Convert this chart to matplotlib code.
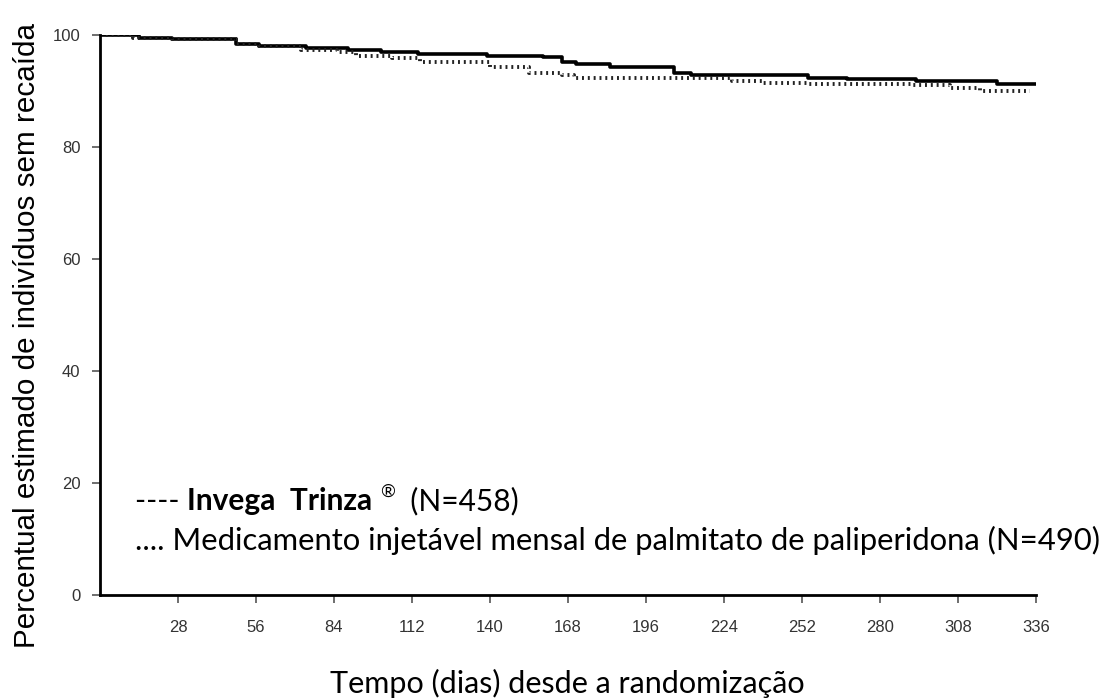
import matplotlib
matplotlib.use("Agg")
from matplotlib import pyplot as plt

# Kaplan-Meier style step curves (days, % sem recaida)
trinza_days = [0, 14, 26, 49, 57, 74, 89, 101, 114, 139, 159, 166, 171, 183, 206, 212, 254, 268, 293, 322, 336]
trinza_pct = [100, 99.4, 99.2, 98.4, 98.0, 97.6, 97.4, 97.0, 96.6, 96.25, 96.0, 95.2, 94.8, 94.3, 93.3, 92.9, 92.4, 92.2, 91.8, 91.25, 91.25]

mensal_days = [0, 12, 26, 49, 57, 72, 85, 92, 105, 115, 140, 154, 166, 170, 227, 238, 254, 292, 305, 316, 334]
mensal_pct = [100, 99.5, 99.2, 98.4, 98.0, 97.4, 97.0, 96.3, 95.9, 95.2, 94.2, 93.2, 92.9, 92.3, 91.7, 91.5, 91.2, 91.0, 90.5, 90.0, 90.0]

x_ticks = [28, 56, 84, 112, 140, 168, 196, 224, 252, 280, 308, 336]
y_ticks = [0, 20, 40, 60, 80, 100]

ylabel = "Percentual estimado de indivíduos sem recaída"
xlabel = "Tempo (dias) desde a randomização"

fig = plt.figure(figsize=(11.13, 7), dpi=100)
ax = fig.add_axes([0.0898, 0.15, 0.8410, 0.80])

ax.plot(trinza_days, trinza_pct, drawstyle="steps-post", color="black", linewidth=2.6)
ax.plot(mensal_days, mensal_pct, drawstyle="steps-post", color="#222222",
        linewidth=2.8, linestyle=(0, (0.5, 1.0)))

ax.set_xlim(0, 336)
ax.set_ylim(0, 100)
ax.set_xticks(x_ticks)
ax.set_yticks(y_ticks)
for side in ["top", "right"]:
    ax.spines[side].set_visible(False)
ax.spines["left"].set_linewidth(2)
ax.spines["bottom"].set_linewidth(2)
ax.tick_params(axis="both", direction="out", length=6, width=1.2, color="#555555")
ax.tick_params(axis="x", pad=12)
ax.tick_params(axis="y", pad=8)
tick_font = ["Liberation Sans Narrow", "Liberation Sans"]
for lab in ax.get_xticklabels() + ax.get_yticklabels():
    lab.set_family(tick_font)
    lab.set_fontsize(12)
    lab.set_color("#333333")

fig.text(0.024, 0.52, ylabel, rotation=90, ha="center", va="center",
         family="Liberation Sans", fontsize=21.3)
fig.text(0.51, 0.024, xlabel, ha="center", va="center", family="Lato", fontsize=22)

# legend written as text inside the plot area, built piece by piece
legend_font = "Lato"
fig.canvas.draw()
renderer = fig.canvas.get_renderer()

def put_pieces(x_px, y_px, pieces):
    for txt, weight, size, dy in pieces:
        t = fig.text(x_px / 1113, (700 - y_px + dy) / 700, txt, family=legend_font,
                     fontweight=weight, fontsize=size, ha="left", va="baseline")
        bb = t.get_window_extent(renderer)
        x_px += bb.width

put_pieces(135, 510, [("---- ", "normal", 21.5, 0),
                      ("Invega  Trinza", "bold", 21.5, 0),
                      (" ", "normal", 21.5, 0),
                      ("®", "normal", 13, 13),
                      ("  (N=458)", "normal", 21.5, 0)])
put_pieces(135, 550, [(".... Medicamento injetável mensal de palmitato de paliperidona (N=490)",
                       "normal", 22.3, 0)])

fig.savefig("out.png", dpi=100)
